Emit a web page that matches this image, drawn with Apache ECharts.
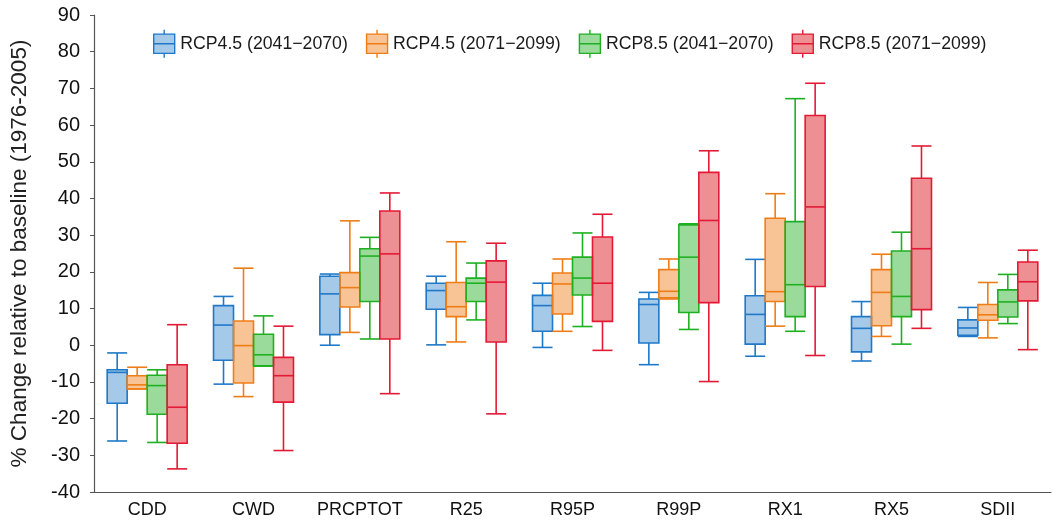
<!DOCTYPE html>
<html>
<head>
<meta charset="utf-8">
<style>
  html, body { margin: 0; padding: 0; background: #fff; }
  #chart { width: 1057px; height: 524px; }
</style>
<script src="https://cdn.jsdelivr.net/npm/echarts@6/dist/echarts.min.js"></script>
</head>
<body>
<div id="chart"></div>
<script>
// Climate indices on the x axis
const categories = ['CDD', 'CWD', 'PRCPTOT', 'R25', 'R95P', 'R99P', 'RX1', 'RX5', 'SDII'];

const seriesNames = [
  'RCP4.5 (2041\u22122070)',
  'RCP4.5 (2071\u22122099)',
  'RCP8.5 (2041\u22122070)',
  'RCP8.5 (2071\u22122099)'
];

// Box statistics per index: [min, Q1, median, Q3, max] (% change)
const rcp45Mid = [
  [-26.1, -15.8, -7.4, -6.7, -2.1],
  [-10.6, -4.1, 5.5, 10.8, 13.3],
  [0.0, 2.9, 14.0, 18.8, 19.4],
  [0.1, 9.8, 14.9, 16.9, 18.8],
  [-0.6, 3.8, 10.8, 13.6, 16.9],
  [-5.3, 0.6, 11.1, 12.6, 14.4],
  [-3.0, 0.3, 8.4, 13.5, 23.4],
  [-4.3, -1.8, 4.6, 7.8, 11.9],
  [2.4, 2.7, 4.7, 6.9, 10.3]
];
const rcp45End = [
  [-11.9, -11.9, -10.8, -8.3, -6.0],
  [-14.0, -10.3, -0.1, 6.6, 21.0],
  [3.5, 10.4, 15.7, 19.8, 33.9],
  [0.9, 7.8, 10.5, 17.1, 28.2],
  [3.8, 8.5, 16.7, 19.7, 23.5],
  [12.6, 12.9, 14.7, 20.6, 23.5],
  [5.2, 11.9, 14.6, 34.6, 41.3],
  [2.4, 5.3, 14.4, 20.6, 24.8],
  [2.0, 6.8, 8.3, 11.1, 17.1]
];
const rcp85Mid = [
  [-26.5, -18.8, -11.0, -8.2, -6.7],
  [-5.7, -5.6, -2.6, 3.0, 8.0],
  [1.7, 11.9, 24.3, 26.3, 29.4],
  [6.9, 11.9, 16.9, 18.3, 22.4],
  [5.1, 13.7, 18.3, 24.0, 30.6],
  [4.3, 8.9, 24.0, 32.8, 33.1],
  [3.8, 7.8, 16.5, 33.7, 67.2],
  [0.3, 7.8, 13.3, 25.7, 30.8],
  [5.9, 7.7, 11.8, 15.1, 19.3]
];
const rcp85End = [
  [-33.7, -26.7, -16.9, -5.3, 5.6],
  [-28.7, -15.5, -8.3, -3.3, 5.2],
  [-13.2, 1.7, 24.9, 36.6, 41.5],
  [-18.7, 0.9, 17.2, 23.0, 27.8],
  [-1.4, 6.5, 16.9, 29.5, 35.7],
  [-9.9, 11.6, 34.0, 47.1, 53.0],
  [-2.8, 16.0, 37.7, 62.6, 71.4],
  [4.6, 9.7, 26.3, 45.5, 54.3],
  [-1.2, 12.1, 17.3, 22.7, 25.9]
];

const yTicks = { min: -40, max: 90, interval: 10 };

const strokeColors = ['#1f78c8', '#ef7d16', '#1fb022', '#e31a35'];
const fillColors = ['rgba(31,120,200,0.40)', 'rgba(239,125,22,0.45)', 'rgba(31,176,34,0.45)', 'rgba(222,40,48,0.52)'];

const allStats = [rcp45Mid, rcp45End, rcp85Mid, rcp85End];
const groupCount = allStats.length;
const BOX_FRACTION = 0.188; // each box takes this share of the category band

// Box-and-whisker glyph for the legend
const boxIcon = 'path://M13,0 V5 M1,5 H25 V27 H1 Z M1,16 H25 M13,27 V32';

function makeRenderer(idx) {
  return function (params, api) {
    const xi = api.value(0);
    const band = api.size([1, 0])[0];
    const w = band * BOX_FRACTION;
    const off = (idx - (groupCount - 1) / 2) * w;
    const pMin = api.coord([xi, api.value(1)]);
    const pQ1 = api.coord([xi, api.value(2)]);
    const pMed = api.coord([xi, api.value(3)]);
    const pQ3 = api.coord([xi, api.value(4)]);
    const pMax = api.coord([xi, api.value(5)]);
    const cx = pMin[0] + off;
    const x0 = cx - w / 2;
    const x1 = cx + w / 2;
    const lineStyle = { stroke: strokeColors[idx], lineWidth: 1.6, fill: null };
    const line = (a, b, c, d) => ({
      type: 'line',
      shape: { x1: a, y1: b, x2: c, y2: d },
      style: lineStyle
    });
    return {
      type: 'group',
      children: [
        line(cx, pMax[1], cx, pQ3[1]),
        line(cx, pQ1[1], cx, pMin[1]),
        line(x0, pMax[1], x1, pMax[1]),
        line(x0, pMin[1], x1, pMin[1]),
        {
          type: 'rect',
          shape: { x: x0, y: pQ3[1], width: w, height: pQ1[1] - pQ3[1] },
          style: { fill: fillColors[idx], stroke: strokeColors[idx], lineWidth: 1.6 }
        },
        line(x0, pMed[1], x1, pMed[1])
      ]
    };
  };
}

const series = allStats.map((stats, idx) => ({
  name: seriesNames[idx],
  type: 'custom',
  renderItem: makeRenderer(idx),
  encode: { x: 0, y: [1, 2, 3, 4, 5] },
  itemStyle: { color: strokeColors[idx] },
  data: stats.map((s, i) => [i].concat(s))
}));

const chart = echarts.init(document.getElementById('chart'), null, { renderer: 'canvas' });

chart.setOption({
  backgroundColor: '#ffffff',
  animation: false,
  textStyle: { fontFamily: '"Liberation Sans", Arial, sans-serif' },
  legend: {
    left: 148,
    top: 24,
    itemWidth: 26,
    itemHeight: 28,
    itemGap: 18,
    icon: boxIcon,
    textStyle: { fontSize: 17.7, color: '#1a1a1a', padding: [0, 0, 0, -2] },
    data: seriesNames.map((n, i) => ({
      name: n,
      itemStyle: { color: fillColors[i], borderColor: strokeColors[i], borderWidth: 1.4 }
    }))
  },
  grid: { left: 93, right: 6, top: 15, bottom: 32 },
  xAxis: {
    type: 'category',
    data: categories,
    axisLine: { onZero: false, lineStyle: { color: '#555555', width: 1.2 } },
    axisTick: { alignWithLabel: true, length: 3, lineStyle: { color: '#555555' } },
    axisLabel: { interval: 0, fontSize: 18, color: '#111111', margin: 9 }
  },
  yAxis: {
    type: 'value',
    min: yTicks.min,
    max: yTicks.max,
    interval: yTicks.interval,
    name: '% Change relative to baseline (1976-2005)',
    nameLocation: 'middle',
    nameGap: 63,
    nameTextStyle: { fontSize: 22.5, color: '#222222' },
    splitLine: { show: false },
    axisLine: { show: true, lineStyle: { color: '#555555', width: 1.2 } },
    axisTick: { show: true, length: 4, lineStyle: { color: '#555555' } },
    axisLabel: { fontSize: 20, color: '#111111', margin: 14 }
  },
  series: series
});
</script>
</body>
</html>
